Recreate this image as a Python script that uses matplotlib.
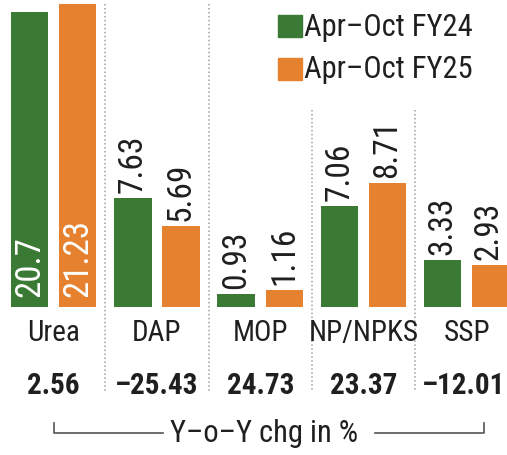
import matplotlib.pyplot as plt

categories = ['Urea', 'DAP', 'MOP', 'NP/NPKS', 'SSP']
fy24 = [20.7, 7.63, 0.93, 7.06, 3.33]
fy25 = [21.23, 5.69, 1.16, 8.71, 2.93]
fy24_labels = ['20.7', '7.63', '0.93', '7.06', '3.33']
fy25_labels = ['21.23', '5.69', '1.16', '8.71', '2.93']
yoy_labels = ['2.56', '\u201325.43', '24.73', '23.37', '\u201312.01']
legend_names = ['Apr\u2013Oct FY24', 'Apr\u2013Oct FY25']

GREEN = '#3b7a34'
ORANGE = '#e6822f'
TEXT = '#1f1f1f'
W, H = 507, 455

plt.rcParams['font.family'] = ['Liberation Sans Narrow', 'Roboto Condensed', 'DejaVu Sans']


def fy(py):
    # pixel row from top -> figure fraction
    return 1 - py / H


fig = plt.figure(figsize=(W / 100, H / 100), dpi=100)
ax = fig.add_axes([0, 0, 1, 1])
ax.set_xlim(-0.5206, 4.39)
ax.set_ylim(-(H - 307) / 14.25, 307 / 14.25)
ax.axis('off')

x = list(range(len(categories)))
bw = 0.363
off = 0.2325
gx = [i - off for i in x]
ox = [i + off for i in x]
ax.bar(gx, fy24, width=bw, color=GREEN)
ax.bar(ox, fy25, width=bw, color=ORANGE)

pad = 5 / 14.25
for i in x:
    if i == 0:
        ax.text(gx[i], 0.7, fy24_labels[i], rotation=90, ha='center', va='bottom',
                color='white', fontsize=25)
        ax.text(ox[i], 0.7, fy25_labels[i], rotation=90, ha='center', va='bottom',
                color='white', fontsize=25)
    else:
        ax.text(gx[i], fy24[i] + pad, fy24_labels[i], rotation=90, ha='center', va='bottom',
                color=TEXT, fontsize=24)
        ax.text(ox[i] - (0.02 if i == 4 else 0), fy25[i] + pad, fy25_labels[i],
                rotation=90, ha='center', va='bottom', color=TEXT, fontsize=24)

# dotted separators
for i in range(len(categories) - 1):
    top = 4 if i < 2 else 110
    ax.plot([i + 0.5, i + 0.5], [(307 - top) / 14.25, (307 - 392) / 14.25],
            linestyle=(0, (1, 1.6)), color='#9aa0aa', linewidth=1.1)

for i in x:
    ax.text(i, -(333 - 307) / 14.25, categories[i], ha='center', va='center',
            color=TEXT, fontsize=21)
    ax.text(i - (0.03 if i == 4 else 0), -(386 - 307) / 14.25, yoy_labels[i],
            ha='center', va='center', color=TEXT, fontsize=21, fontweight='bold')

# bracket for Y-o-Y note
lc = '#555555'
fig.add_artist(plt.Line2D([54 / W, 54 / W, 163 / W], [fy(423), fy(433), fy(433)],
                          color=lc, linewidth=1.2))
fig.add_artist(plt.Line2D([375 / W, 484 / W, 484 / W], [fy(433), fy(433), fy(423)],
                          color=lc, linewidth=1.2))
fig.text(264 / W, fy(433), 'Y\u2013o\u2013Y chg in %', ha='center', va='center',
         color=TEXT, fontsize=22)

# legend
for k, (name, col) in enumerate(zip(legend_names, [GREEN, ORANGE])):
    top = 15 + 43 * k
    fig.add_artist(plt.Rectangle((278 / W, fy(top + 22)), 24 / W, 22 / H,
                                 color=col, transform=fig.transFigure))
    fig.text(304 / W, fy(top + 12), name, ha='left', va='center',
             color=TEXT, fontsize=22)

fig.savefig('out.png', dpi=100)
